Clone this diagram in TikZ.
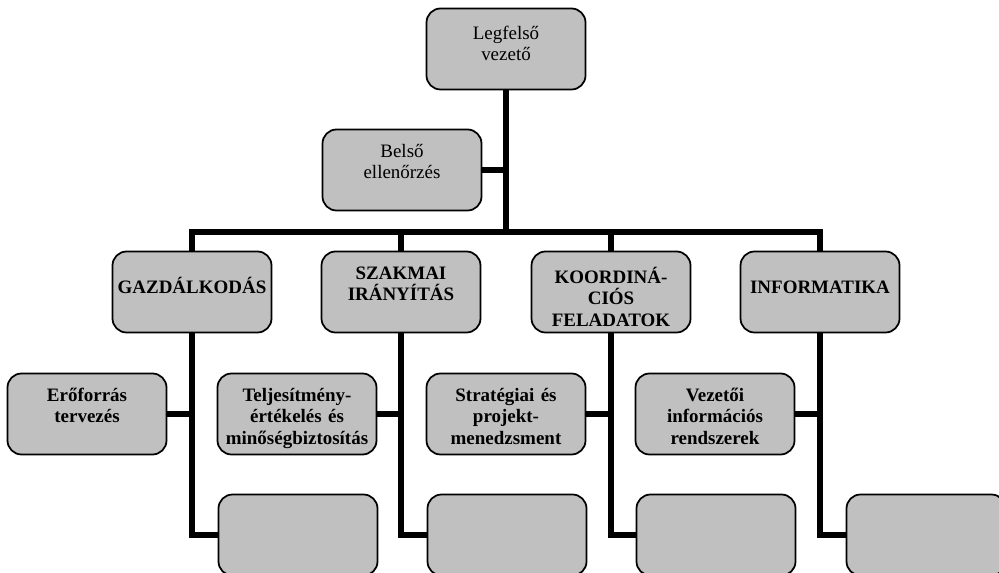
\documentclass[tikz,border=0pt]{standalone}
\usepackage{fontspec}
\setmainfont{Liberation Serif}
\usetikzlibrary{positioning}
\definecolor{boxgray}{HTML}{C0C0C0}

\begin{document}
\begin{tikzpicture}[x=0.02cm, y=-0.02cm,
  box/.style={draw, fill=boxgray, line width=1pt, rounded corners=0.28cm, minimum width=3.14cm, minimum height=1.62cm, inner xsep=2pt, inner ysep=0pt, text width=3.04cm, align=center, font=\fontsize{10.8}{12.2}\selectfont, text height=0.56cm, text depth=1.06cm},
  head/.style={box, font=\fontsize{10.8}{12.2}\selectfont\bfseries},
  oneline/.style={text height=0.84cm, text depth=0.78cm},
  threeline/.style={text height=0.64cm, text depth=0.98cm},
  conn/.style={line width=3.4pt}]
  \useasboundingbox (0,0) rectangle (999,573);
  \clip (0,0) rectangle (999,573);

  \node[box, text height=0.62cm, text depth=1.00cm] (top) at (506,49) {Legfelső\\vezető};
  \node[box] (belso) at (402,170) {Belső\\ellenőrzés};
  \coordinate (bar) at (506,232);

  \node[head,oneline] (gazd) at (192,292) {GAZDÁLKODÁS};
  \node[head] (szak) at (401,292) {SZAKMAI\\IRÁNYÍTÁS};
  \node[head,threeline] (koord) at (611,292) {KOORDINÁ-\\CIÓS\\FELADATOK};
  \node[head,oneline] (info) at (820,292) {INFORMATIKA};

  \node[head] (eroforras) at (87,414) {Erőforrás\\tervezés};
  \node[head] (telj) at (297,414) {Teljesítmény-\\értékelés és\\minőségbiztosítás};
  \node[head] (strat) at (506,414) {Stratégiai és\\projekt-\\menedzsment};
  \node[head] (vezetoi) at (715,414) {Vezetői\\információs\\rendszerek};

  \node[box] (gazdsub) at (298,535) {};
  \node[box] (szaksub) at (507,535) {};
  \node[box] (koordsub) at (716,535) {};
  \node[box] (infosub) at (926,535) {};

  \draw[conn] (top.south) -- (bar);
  \draw[conn] (belso.east) -- (belso.east -| bar);
  \draw[conn] (gazd.north) -- (gazd.north |- bar) -- (info.north |- bar) -- (info.north);
  \draw[conn] (szak.north) -- (szak.north |- bar);
  \draw[conn] (koord.north) -- (koord.north |- bar);

  \draw[conn] (gazd.south) |- (gazdsub.west);
  \draw[conn] (szak.south) |- (szaksub.west);
  \draw[conn] (koord.south) |- (koordsub.west);
  \draw[conn] (info.south) |- (infosub.west);

  \draw[conn] (eroforras.east) -- (eroforras.east -| gazd.south);
  \draw[conn] (telj.east) -- (telj.east -| szak.south);
  \draw[conn] (strat.east) -- (strat.east -| koord.south);
  \draw[conn] (vezetoi.east) -- (vezetoi.east -| info.south);
\end{tikzpicture}
\end{document}
